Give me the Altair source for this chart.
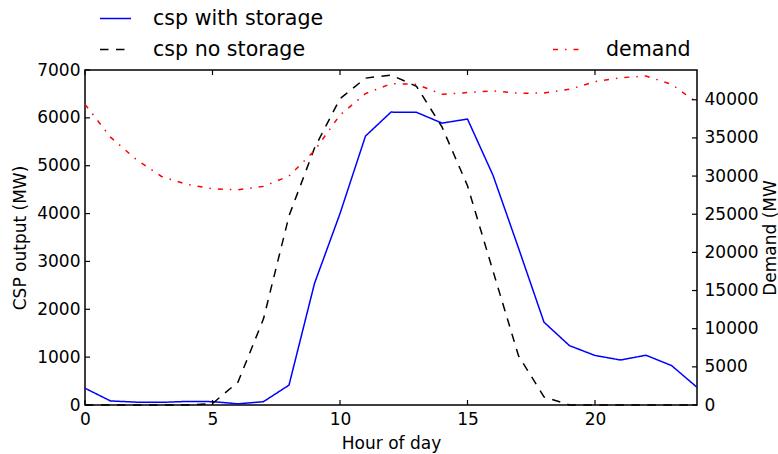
import altair as alt
import pandas as pd

# Hourly CSP output and system demand over one day
hours = list(range(25))
csp_with_storage = [350, 85, 60, 55, 75, 70, 25, 70, 415, 2540, 4000, 5620, 6120, 6115,
                    5890, 5975, 4800, 3280, 1730, 1240, 1035, 940, 1040, 825, 370]
csp_no_storage = [0, 0, 0, 0, 0, 30, 480, 1800, 3950, 5370, 6400, 6830, 6895, 6660,
                  5810, 4580, 2800, 1030, 170, 0, 0, 0, 0, 0, 0]
demand = [39400, 35100, 32200, 29950, 28900, 28330, 28200, 28650, 30000, 33330, 38000,
          40800, 42100, 42030, 40720, 40940, 41160, 40850, 40890, 41370, 42370, 42890,
          43110, 42030, 39630]

x_tick_values = [0, 5, 10, 15, 20]
csp_tick_values = [0, 1000, 2000, 3000, 4000, 5000, 6000, 7000]
demand_tick_values = [0, 5000, 10000, 15000, 20000, 25000, 30000, 35000, 40000]

CSP_SERIES = ["csp with storage", "csp no storage"]
W, H = 612, 335
FONT = "DejaVu Sans"
TICK_LEN = 5
LINE_W = 1.5

csp = pd.DataFrame({
    "hour": hours * 2,
    "mw": csp_with_storage + csp_no_storage,
    "series": [CSP_SERIES[0]] * len(hours) + [CSP_SERIES[1]] * len(hours),
})
dem = pd.DataFrame({"hour": hours, "mw": demand, "series": ["demand"] * len(hours)})

x_scale = alt.Scale(domain=[0, 24], nice=False, zero=False)
csp_scale = alt.Scale(domain=[0, 7000], nice=False)
dem_scale = alt.Scale(domain=[0, 43900], nice=False)

# One axis definition per scale, reused by every layer on that scale
x_axis = alt.Axis(values=x_tick_values, title="Hour of day", format="d", labelPadding=6,
                  labelFlush=False, titleX=W / 2, titleY=38, titleBaseline="middle")
csp_axis = alt.Axis(values=csp_tick_values, title="CSP output (MW)", orient="left",
                    format="d", labelPadding=5, labelFlush=False,
                    titleX=-65, titleY=H / 2, titleAngle=270,
                    titleAlign="center", titleBaseline="middle")
dem_axis = alt.Axis(values=demand_tick_values, title="Demand (MW", orient="right",
                    format="d", labelPadding=7, labelFlush=False,
                    titleX=73, titleY=H / 2, titleAngle=270,
                    titleAlign="center", titleBaseline="middle")

csp_legend = alt.Legend(title=None, orient="none", legendX=14, legendY=-68)
dem_legend = alt.Legend(title=None, orient="none", legendX=467, legendY=-37)

csp_lines = alt.Chart(csp).mark_line(strokeWidth=LINE_W).encode(
    x=alt.X("hour:Q", scale=x_scale, axis=x_axis),
    y=alt.Y("mw:Q", scale=csp_scale, axis=csp_axis),
    color=alt.Color("series:N", scale=alt.Scale(domain=CSP_SERIES, range=["#0000ff", "#000000"]),
                    legend=csp_legend),
    strokeDash=alt.StrokeDash("series:N",
                              scale=alt.Scale(domain=CSP_SERIES, range=[[1, 0], [8.5, 7.5]]),
                              legend=csp_legend),
)

# Inward tick marks on all four sides of the frame
left_ticks = alt.Chart(pd.DataFrame({"v": csp_tick_values})).mark_rule(
    color="black", strokeWidth=1.2).encode(
    y=alt.Y("v:Q", scale=csp_scale, axis=csp_axis),
    x=alt.value(0), x2=alt.value(TICK_LEN),
)

x_ticks = pd.DataFrame({"v": x_tick_values})
bottom_ticks = alt.Chart(x_ticks).mark_rule(color="black", strokeWidth=1.2).encode(
    x=alt.X("v:Q", scale=x_scale, axis=x_axis),
    y=alt.value(H), y2=alt.value(H - TICK_LEN),
)
top_ticks = alt.Chart(x_ticks).mark_rule(color="black", strokeWidth=1.2).encode(
    x=alt.X("v:Q", scale=x_scale, axis=x_axis),
    y=alt.value(0), y2=alt.value(TICK_LEN),
)

dem_line = alt.Chart(dem).mark_line(strokeWidth=LINE_W).encode(
    x=alt.X("hour:Q", scale=x_scale, axis=x_axis),
    y=alt.Y("mw:Q", scale=dem_scale, axis=dem_axis),
    color=alt.Color("series:N", scale=alt.Scale(domain=["demand"], range=["#ff0000"]),
                    legend=dem_legend),
    strokeDash=alt.StrokeDash("series:N", scale=alt.Scale(domain=["demand"], range=[[5, 7, 1.5, 7]]),
                              legend=dem_legend),
)

right_ticks = alt.Chart(pd.DataFrame({"v": demand_tick_values})).mark_rule(
    color="black", strokeWidth=1.2).encode(
    y=alt.Y("v:Q", scale=dem_scale, axis=dem_axis),
    x=alt.value(W), x2=alt.value(W - TICK_LEN),
)

chart = alt.layer(
    alt.layer(csp_lines, left_ticks, bottom_ticks, top_ticks),
    alt.layer(dem_line, right_ticks),
).resolve_scale(
    y="independent", color="independent", strokeDash="independent"
).properties(
    width=W, height=H,
    padding={"left": 85, "top": 70, "right": 81, "bottom": 49},
    autosize=alt.AutoSizeParams(type="none"),
    background="white",
).configure_view(
    stroke="black", strokeWidth=1.5
).configure_axis(
    labelFont=FONT, labelFontSize=17, labelColor="black",
    titleFont=FONT, titleFontSize=17, titleFontWeight="normal", titleColor="black",
    domain=False, ticks=False, grid=False,
).configure_legend(
    labelFont=FONT, labelFontSize=20.6, labelColor="black", labelLimit=400,
    symbolType="stroke", symbolSize=961, symbolStrokeWidth=1.6,
    labelOffset=21, rowPadding=3, padding=0,
)

chart.save("out.html", embed_options={"renderer": "svg", "actions": False})
